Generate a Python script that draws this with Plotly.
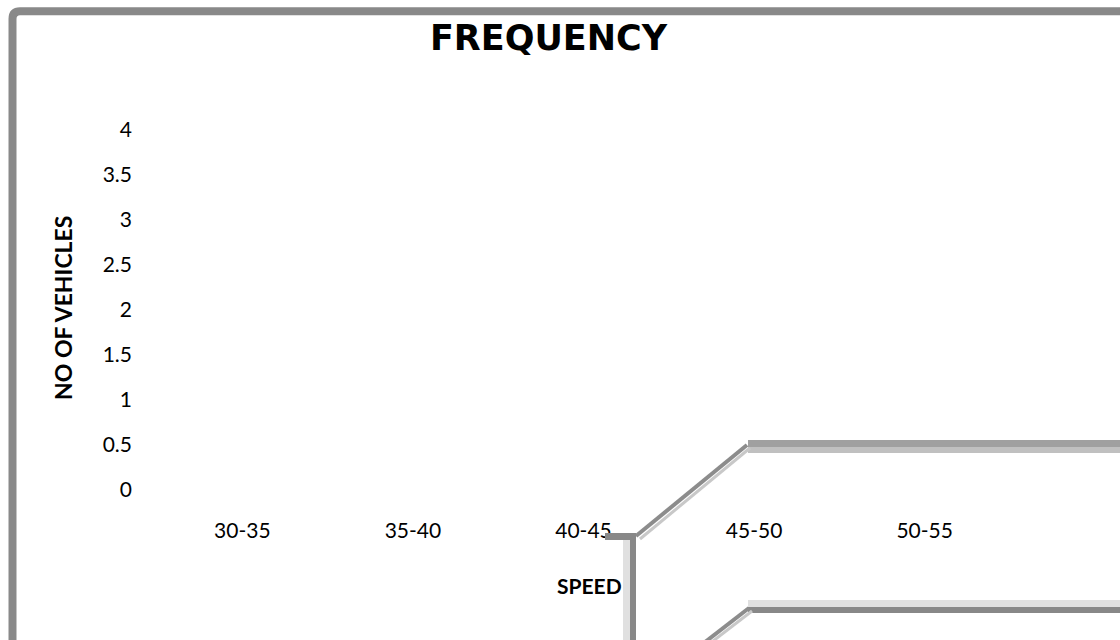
import plotly.graph_objects as go

# ---- data ----
speed_ranges = ["30-35", "35-40", "40-45", "45-50", "50-55"]
vehicle_counts = [0, 0, 0, 0, 0]
y_ticks = [0, 0.5, 1, 1.5, 2, 2.5, 3, 3.5, 4]
y_tick_labels = ["0", "0.5", "1", "1.5", "2", "2.5", "3", "3.5", "4"]

W, H = 1120, 640
OFF = 0  # body margin removed via post_script
# plot area in screen pixels: x 157..1010, y 130..490
L = 157 - OFF
T = 130 - OFF
R = W - (1010 - OFF)
B = H - (490 - OFF)
PW, PH = W - L - R, H - T - B


def px(x):
    return (x - OFF - L) / PW


def py(y):
    return (H - B - (y - OFF)) / PH


fig = go.Figure(
    go.Bar(x=speed_ranges, y=vehicle_counts, marker=dict(color="#4f81bd", line=dict(width=0)),
           showlegend=False)
)

shapes = []


def seg(x0, y0, x1, y1, color, width):
    shapes.append(dict(type="line", xref="paper", yref="paper",
                       x0=px(x0), y0=py(y0), x1=px(x1), y1=py(y1),
                       line=dict(color=color, width=width), layer="above"))


# outer chart border with rounded top-left corner
shapes.append(dict(
    type="path", xref="paper", yref="paper",
    path=(f"M {px(12.5)},{py(660)} L {px(12.5)},{py(19)} "
          f"Q {px(12.5)},{py(11.3)} {px(20)},{py(11.3)} L {px(1140)},{py(11.3)}"),
    line=dict(color="#898989", width=8), layer="above"))

# upper artifact
seg(748, 443.5, 1130, 443.5, "#a0a0a0", 7)
seg(748, 450, 1130, 450, "#c0c0c0", 6)
seg(747, 445, 636, 536, "#8c8c8c", 4)
seg(750, 448, 640, 539, "#c8c8c8", 3)
seg(605, 536.5, 636, 536.5, "#888888", 7)
seg(626.5, 540, 626.5, 650, "#e0e0e0", 7)
seg(633, 533, 633, 650, "#888888", 6)

# lower artifact
seg(748, 603.5, 1130, 603.5, "#e0e0e0", 7)
seg(748, 610, 1130, 610, "#888888", 6)
seg(749, 608, 700, 646, "#8c8c8c", 4)
seg(752, 611, 704, 648, "#c8c8c8", 3)

annotations = [
    dict(text="<b>NO OF VEHICLES</b>", xref="paper", yref="paper",
         x=px(63), y=py(308), textangle=-90, showarrow=False,
         font=dict(family="Lato", size=23, color="#000000"),
         xanchor="center", yanchor="middle"),
    dict(text="<b>SPEED</b>", xref="paper", yref="paper",
         x=px(589), y=py(585), showarrow=False,
         font=dict(family="Lato", size=21, color="#000000"),
         xanchor="center", yanchor="middle"),
]

fig.update_layout(
    width=W, height=H,
    margin=dict(l=L, r=R, t=T, b=B),
    paper_bgcolor="white", plot_bgcolor="white",
    title=dict(text="<b>FREQUENCY</b>", x=(548.5 - OFF) / W, xanchor="center",
               y=1 - (38 - OFF) / H, yanchor="middle", yref="container",
               font=dict(family="DejaVu Sans", size=35, color="#000000")),
    xaxis=dict(type="category", range=[-0.5, 4.5], showgrid=False, zeroline=False,
               showline=False, ticks="", ticklabelstandoff=26,
               tickfont=dict(family="Lato", size=21, color="#000000"), fixedrange=True),
    yaxis=dict(range=[0, 4], tickvals=y_ticks, ticktext=y_tick_labels,
               showgrid=False, zeroline=False, showline=False, ticks="",
               ticklabelstandoff=24,
               tickfont=dict(family="Lato", size=21, color="#000000"), fixedrange=True),
    shapes=shapes,
    annotations=annotations,
    showlegend=False,
)

fig.write_html(
    "out.html",
    config={"displayModeBar": False, "staticPlot": True},
    post_script="document.body.style.margin='0';document.body.style.overflow='hidden';",
)
